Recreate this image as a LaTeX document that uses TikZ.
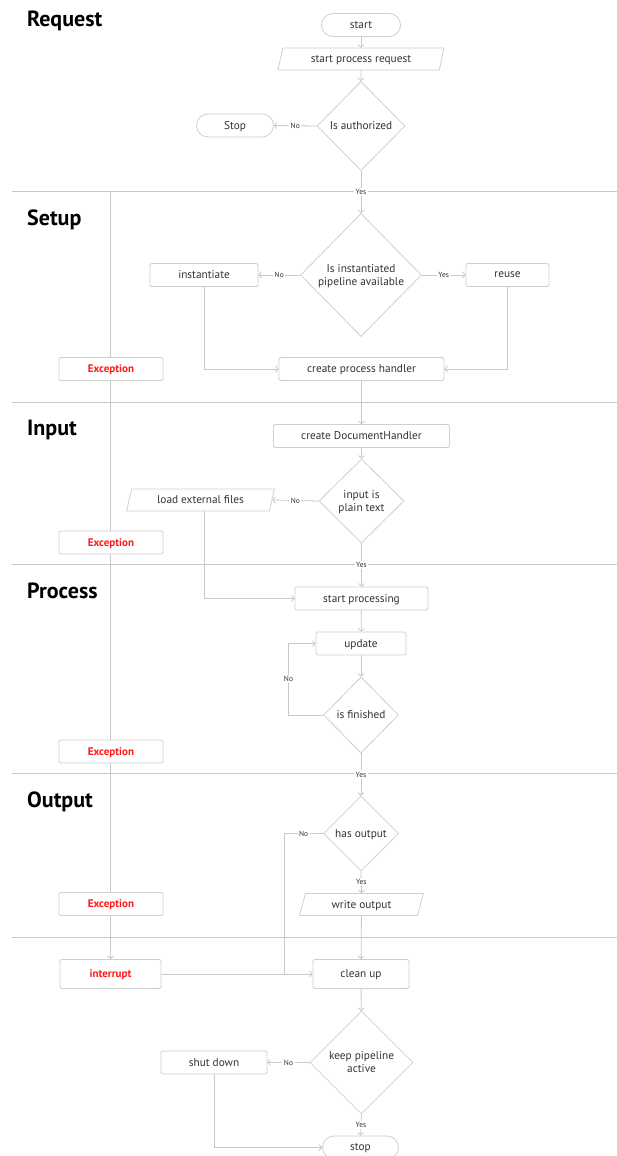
\documentclass[tikz,border=0pt]{standalone}
\usepackage{fontspec}
\setmainfont{PT Sans}
\usetikzlibrary{shapes.geometric,arrows.meta,calc}
\pgfdeclarelayer{bg}
\pgfsetlayers{bg,main}
\definecolor{ln}{HTML}{C8C8C8}
\definecolor{bd}{HTML}{CFCFCF}
\definecolor{tx}{HTML}{333333}
\definecolor{exc}{HTML}{FF1A1A}
\begin{document}
\begin{tikzpicture}[x=1pt,y=-1pt,
  base/.style={draw=bd, line width=0.8pt, fill=white, text=tx, inner sep=2pt,
    font=\fontsize{11.3}{13}\selectfont, align=center, text depth=0.5pt},
  box/.style={base, rounded corners=1.5pt, minimum height=23pt},
  exbox/.style={box, minimum width=104pt, text=exc, font=\fontsize{11}{13}\selectfont\bfseries},
  pill/.style={base, rounded corners=11.5pt, minimum height=23pt},
  dia/.style={base, diamond, shape aspect=1, inner sep=0pt},
  para/.style={base, trapezium, trapezium left angle=75, trapezium right angle=105,
    trapezium stretches=true, minimum height=22pt},
  title/.style={anchor=base west, font=\fontsize{22}{26}\selectfont\bfseries, text=black, inner sep=0pt},
  arr/.style={draw=ln, line width=0.8pt, -{Straight Barb[length=2.5pt,width=6pt]}},
  ln/.style={draw=ln, line width=0.8pt},
  lbl/.style={fill=white, text=tx, font=\fontsize{7.5}{8}\selectfont, inner sep=1.5pt},
]
\useasboundingbox (0,0) rectangle (617,1156);

% titles
\node[title] (tReq) at (27,27) {Request};
\node[title] (tSet) at (27,225.5) {Setup};
\node[title] (tIn) at (27,435.5) {Input};
\node[title] (tPro) at (27,598.5) {Process};
\node[title] (tOut) at (27,807.5) {Output};

% Request
\node[pill, minimum width=79pt] (start) at (361,25) {start};
\node[para, minimum width=166pt] (spr) at (361,59) {start process request};
\node[dia, minimum width=88pt, minimum height=89pt] (auth) at (361,126) {Is authorized};
\node[pill, minimum width=77pt] (stopA) at (235,125.5) {Stop};

% Setup
\node[dia, minimum width=121pt, minimum height=123pt] (avail) at (361,275) {Is instantiated\\pipeline available};
\node[box, minimum width=108pt] (inst) at (204,275) {instantiate};
\node[box, minimum width=83pt] (reuse) at (507.5,275) {reuse};
\node[box, minimum width=165pt] (cph) at (361.5,369) {create process handler};
\node[exbox] (ex1) at (111,369) {Exception};

% Input
\node[box, minimum width=176pt] (cdh) at (361.5,436) {create DocumentHandler};
\node[dia, minimum width=85pt, minimum height=84pt] (plain) at (361.5,501) {input is\\plain text};
\node[para, minimum width=149pt] (lef) at (200.5,500) {load external files};
\node[exbox] (ex2) at (111,542.5) {Exception};

% Process
\node[box, minimum width=133pt] (sp) at (361.5,598.5) {start processing};
\node[box, minimum width=90pt] (upd) at (361,643.5) {update};
\node[dia, minimum width=75pt, minimum height=76pt] (fin) at (361,715) {is finished};
\node[exbox] (ex3) at (111,751.5) {Exception};

% Output
\node[dia, minimum width=75pt, minimum height=75pt] (ho) at (361,833.5) {has output};
\node[para, minimum width=124pt] (wo) at (361.5,904.5) {write output};
\node[exbox] (ex4) at (111,904) {Exception};

% Final
\node[box, minimum width=101pt, minimum height=29pt, text=exc, font=\fontsize{11}{13}\selectfont\bfseries] (intr) at (110.5,974) {interrupt};
\node[box, minimum width=96pt, minimum height=29pt] (cu) at (361,974) {clean up};
\node[dia, minimum width=103pt, minimum height=103pt] (keep) at (361.5,1062.5) {keep pipeline\\active};
\node[box, minimum width=106pt] (sd) at (214,1062.5) {shut down};
\node[pill, minimum width=76pt] (stopB) at (360.5,1147.5) {stop};

\coordinate (lt) at (110.5,191);
\coordinate (loopc) at (288.5,715);
\coordinate (hon) at (284,833.5);

\begin{pgfonlayer}{bg}
  \fill[white] (0,0) rectangle (617,1156);
  \foreach \yy in {191,402.5,564,773.5,937}
    \draw[ln] (12,\yy) -- (617,\yy);
  \draw[arr] (lt) -- (intr.north);
  \draw[arr] (start) -- (spr);
  \draw[arr] (spr) -- (auth);
  \draw[arr] (auth.west) -- node[lbl]{No} (stopA.east);
  \draw[arr] (auth.south) -- node[lbl]{Yes} (avail.north);
  \draw[arr] (avail.west) -- node[lbl]{No} (inst.east);
  \draw[arr] (avail.east) -- node[lbl]{Yes} (reuse.west);
  \draw[arr] (inst.south) |- (cph.west);
  \draw[arr] (reuse.south) |- (cph.east);
  \draw[arr] (cph) -- (cdh);
  \draw[arr] (cdh) -- (plain);
  \draw[arr] (plain.west) -- node[lbl]{No} (lef.east);
  \draw[arr] (plain.south) -- node[lbl]{Yes} (sp.north);
  \draw[arr] ([xshift=3.5pt]lef.south) |- (sp.west);
  \draw[arr] (sp) -- (upd);
  \draw[arr] (upd) -- (fin);
  \draw[arr] (fin.west) -- (loopc) -- node[lbl]{No} (loopc |- upd.west) -- (upd.west);
  \draw[arr] (fin.south) -- node[lbl]{Yes} (ho.north);
  \draw[ln] (ho.west) -- node[lbl]{No} (hon) -- (hon |- cu.west);
  \draw[arr] (ho.south) -- node[lbl]{Yes} (wo.north);
  \draw[arr] (wo) -- (cu);
  \draw[arr] (intr.east) -- (cu.west);
  \draw[arr] (cu) -- (keep);
  \draw[arr] (keep.west) -- node[lbl]{No} (sd.east);
  \draw[arr] (keep.south) -- node[lbl]{Yes} (stopB.north);
  \draw[arr] (sd.south) |- (stopB.west);
\end{pgfonlayer}
\end{tikzpicture}
\end{document}
